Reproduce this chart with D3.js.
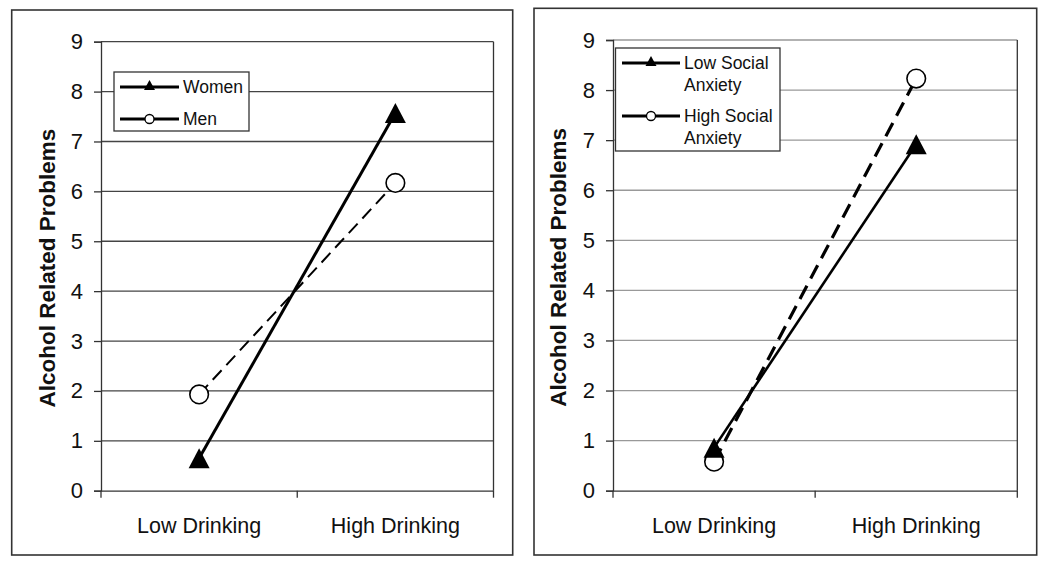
<!DOCTYPE html>
<html><head><meta charset="utf-8">
<script src="https://cdn.jsdelivr.net/npm/d3@7"></script>
<style>body{margin:0;background:#fff}svg{display:block}</style>
</head><body>
<svg id="c" width="1050" height="572"></svg>
<script>
const categories = ["Low Drinking", "High Drinking"];
const yTicks = [0, 1, 2, 3, 4, 5, 6, 7, 8, 9];
const yLabel = "Alcohol Related Problems";
const womenValues = [0.65, 7.57];
const menValues = [1.93, 6.17];
const lowSAValues = [0.86, 6.92];
const highSAValues = [0.58, 8.23];
const leftLegend = [["Women"], ["Men"]];
const rightLegend = [["Low Social", "Anxiety"], ["High Social", "Anxiety"]];

const svg = d3.select("#c");
const font = "'Liberation Sans', Arial, sans-serif";

function triPath(w, h) {
  const p = d3.path();
  p.moveTo(0, -h / 2); p.lineTo(w / 2, h / 2); p.lineTo(-w / 2, h / 2); p.closePath();
  return p.toString();
}

function panel(cfg) {
  const g = svg.append("g");
  g.append("rect").attr("x", cfg.frame[0]).attr("y", cfg.frame[1])
    .attr("width", cfg.frame[2] - cfg.frame[0]).attr("height", cfg.frame[3] - cfg.frame[1])
    .attr("fill", "#fff").attr("stroke", "#333").attr("stroke-width", 1.6);
  const x = d3.scaleBand().domain(categories).range([cfg.left, cfg.right]).padding(0);
  const y = d3.scaleLinear().domain([0, 9]).range([cfg.bottom, cfg.top]);
  g.selectAll(".grid").data(yTicks.filter(d => d > 0)).join("line")
    .attr("x1", cfg.left).attr("x2", cfg.right)
    .attr("y1", d => y(d)).attr("y2", d => y(d))
    .attr("stroke", cfg.gridColor).attr("stroke-width", 1.3);
  g.append("line").attr("x1", cfg.right).attr("x2", cfg.right)
    .attr("y1", y(9)).attr("y2", y(0)).attr("stroke", "#333").attr("stroke-width", 1.3);
  const ya = g.append("g").attr("transform", `translate(${cfg.left},0)`)
    .call(d3.axisLeft(y).tickValues(yTicks).tickSize(7).tickPadding(11).tickFormat(d3.format("d")));
  ya.select(".domain").attr("stroke", "#333").attr("stroke-width", 1.3);
  ya.selectAll(".tick line").attr("stroke", "#333").attr("stroke-width", 1.3);
  ya.selectAll("text").attr("font-family", font).attr("font-size", 22).attr("fill", "#111");
  const xa = g.append("g").attr("transform", `translate(0,${cfg.bottom})`)
    .call(d3.axisBottom(x).tickSize(0).tickPadding(27));
  xa.select(".domain").attr("stroke", "#333").attr("stroke-width", 1.3);
  xa.selectAll("text").attr("font-family", font).attr("font-size", 21.5).attr("fill", "#111");
  const bounds = [cfg.left, cfg.left + x.bandwidth(), cfg.right];
  g.selectAll(".bt").data(bounds).join("line")
    .attr("x1", d => d).attr("x2", d => d)
    .attr("y1", cfg.bottom).attr("y2", cfg.bottom + 7)
    .attr("stroke", "#333").attr("stroke-width", 1.3);
  g.append("text").attr("transform", `translate(${cfg.labelX},${(y(0) + y(9)) / 2 + 2}) rotate(-90)`)
    .attr("text-anchor", "middle").attr("dominant-baseline", "central")
    .attr("font-family", font).attr("font-size", 22.5).attr("font-weight", "bold").attr("fill", "#111")
    .text(yLabel);
  const cx = c => x(c) + x.bandwidth() / 2;
  const line = d3.line().x((d, i) => cx(categories[i])).y(d => y(d));
  cfg.series.forEach(s => {
    g.append("path").datum(s.values).attr("d", line).attr("fill", "none")
      .attr("stroke", "#000").attr("stroke-width", s.width)
      .attr("stroke-dasharray", s.dash || null);
  });
  cfg.series.slice().reverse().forEach(s => {
    s.values.forEach((v, i) => {
      if (s.marker === "tri") {
        g.append("path").attr("d", triPath(21, 20)).attr("transform", `translate(${cx(categories[i])},${y(v)})`)
          .attr("fill", "#000");
      } else {
        g.append("circle").attr("cx", cx(categories[i])).attr("cy", y(v)).attr("r", 9.3)
          .attr("fill", "#fff").attr("stroke", "#000").attr("stroke-width", 1.6);
      }
    });
  });
  const L = cfg.legend;
  g.append("rect").attr("x", L.x0).attr("y", L.y0).attr("width", L.x1 - L.x0).attr("height", L.y1 - L.y0)
    .attr("fill", "#fff").attr("stroke", "#333").attr("stroke-width", 1.3);
  cfg.series.forEach((s, k) => {
    const ry = L.rows[k];
    g.append("line").attr("x1", L.lx0).attr("x2", L.lx1).attr("y1", ry).attr("y2", ry)
      .attr("stroke", "#000").attr("stroke-width", 3);
    const mx = (L.lx0 + L.lx1) / 2;
    if (s.marker === "tri") {
      g.append("path").attr("d", triPath(11, 10))
        .attr("transform", `translate(${mx},${ry - 2})`).attr("fill", "#000");
    } else {
      g.append("circle").attr("cx", mx).attr("cy", ry).attr("r", 4.5)
        .attr("fill", "#fff").attr("stroke", "#000").attr("stroke-width", 1.3);
    }
    const t = g.append("text").attr("x", L.tx).attr("y", ry)
      .attr("font-family", font).attr("font-size", 17.5).attr("fill", "#111");
    s.label.forEach((ln, j) => {
      t.append("tspan").attr("x", L.tx).attr("dy", j === 0 ? "0.36em" : L.lineH).text(ln);
    });
  });
}

panel({
  frame: [11.7, 10, 512.7, 555], left: 101, right: 493.5, top: 41.7, bottom: 490.7,
  gridColor: "#444", labelX: 47,
  series: [
    { values: womenValues, marker: "tri", width: 3, dash: null, label: leftLegend[0] },
    { values: menValues, marker: "circ", width: 2, dash: "13,7", label: leftLegend[1] }
  ],
  legend: { x0: 114, y0: 72, x1: 249, y1: 131, lx0: 120, lx1: 179, tx: 183, rows: [87, 119], lineH: 22 }
});

panel({
  frame: [534, 8.3, 1036.7, 555], left: 613, right: 1017.3, top: 40, bottom: 490.7,
  gridColor: "#999", labelX: 558,
  series: [
    { values: lowSAValues, marker: "tri", width: 2.6, dash: null, label: rightLegend[0] },
    { values: highSAValues, marker: "circ", width: 3.2, dash: "15,8", label: rightLegend[1] }
  ],
  legend: { x0: 615.5, y0: 48, x1: 780, y1: 151, lx0: 622, lx1: 680, tx: 684, rows: [63, 116], lineH: 22 }
});
</script>
</body></html>
